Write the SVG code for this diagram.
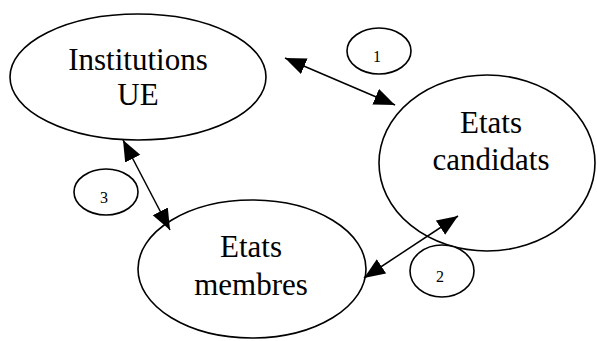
<svg xmlns="http://www.w3.org/2000/svg" width="597" height="341" viewBox="0 0 597 341">
<style>
.node{fill:#fff;stroke:#000;stroke-width:1.6}
.big{font-family:"Liberation Serif","Times New Roman",serif;font-size:31px;fill:#000;text-anchor:middle}
.small{font-family:"Liberation Serif","Times New Roman",serif;font-size:16px;fill:#000;text-anchor:middle}
.conn{stroke:#000;stroke-width:1.5;fill:none;marker-start:url(#ah);marker-end:url(#ah)}
</style>
<defs>
<marker id="ah" markerUnits="userSpaceOnUse" markerWidth="24" markerHeight="18" refX="21" refY="8.5" orient="auto-start-reverse">
<path d="M0,0 L21,8.5 L0,17 Z" fill="#000"/>
</marker>
</defs>
<rect width="597" height="341" fill="#fff"/>
<g id="institutions">
<ellipse class="node" cx="138" cy="77" rx="128" ry="63"/>
<text class="big" x="138" y="70">Institutions</text>
<text class="big" x="138" y="105">UE</text>
</g>
<g id="candidats">
<ellipse class="node" cx="487" cy="163" rx="108" ry="88"/>
<text class="big" x="491" y="133">Etats</text>
<text class="big" x="491" y="170">candidats</text>
</g>
<g id="membres">
<ellipse class="node" cx="252" cy="269" rx="114" ry="69"/>
<text class="big" x="251" y="257">Etats</text>
<text class="big" x="251" y="295">membres</text>
</g>
<g id="label1">
<ellipse class="node" cx="379" cy="51" rx="32" ry="23"/>
<text class="small" x="377" y="62">1</text>
</g>
<g id="label2">
<ellipse class="node" cx="442" cy="271" rx="32" ry="26"/>
<text class="small" x="440" y="282">2</text>
</g>
<g id="label3">
<ellipse class="node" cx="106" cy="192" rx="32" ry="23"/>
<text class="small" x="104" y="203">3</text>
</g>
<g id="connectors">
<line class="conn" x1="285" y1="58" x2="395" y2="105"/>
<line class="conn" x1="458" y1="216" x2="364" y2="278"/>
<line class="conn" x1="123" y1="140" x2="170" y2="230"/>
</g>
</svg>
